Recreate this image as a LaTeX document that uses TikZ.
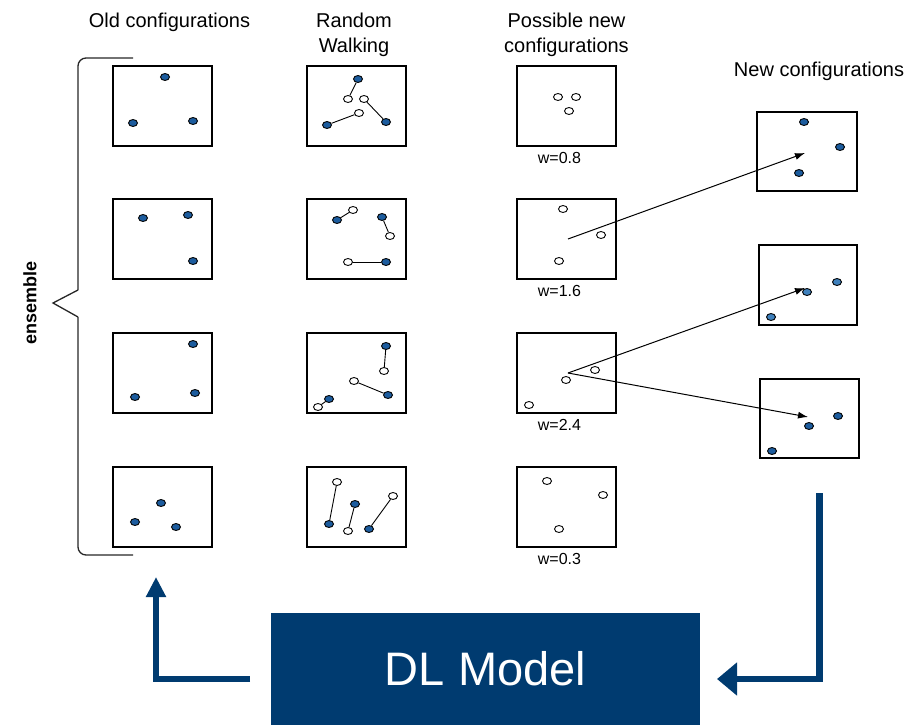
\documentclass[tikz,border=0pt]{standalone}
\usepackage{fontspec}
\setmainfont{Liberation Sans}
\usetikzlibrary{arrows.meta,positioning,shapes.geometric}
\definecolor{dlblue}{RGB}{0,59,112}
\definecolor{dotblue}{RGB}{28,92,158}
\definecolor{dotlight}{RGB}{62,128,188}
\tikzset{box/.style={draw,line width=1.1pt,minimum width=99pt,minimum height=80pt,inner sep=0pt}}
\tikzset{fdot/.style={ellipse,draw,line width=0.9pt,fill=dotblue,minimum width=9pt,minimum height=7pt,inner sep=0pt}}
\tikzset{odot/.style={fdot,fill=white}}
\tikzset{ldot/.style={fdot,fill=dotlight}}
\tikzset{coltitle/.style={font=\fontsize{20}{24.5}\selectfont,align=center,anchor=north,inner sep=0pt}}
\tikzset{wlab/.style={font=\fontsize{16}{19}\selectfont,inner sep=0pt}}
\tikzset{flow/.style={draw=dlblue,line width=6.7pt}}
\tikzset{pick/.style={line width=1pt,-{Latex[length=10pt,width=7pt]}}}
\tikzset{brace/.style={black!85,line width=1.3pt}}

\begin{document}
\begin{tikzpicture}[x=1pt,y=-1pt]
  \useasboundingbox (0,0) rectangle (907,725);

  \node[coltitle] (told) at (169.5,13) {Old configurations};
  \node[coltitle] (twalk) at (354,13) {Random\\Walking};
  \node[coltitle] (tposs) at (566.5,13) {Possible new\\configurations};
  \node[coltitle] (tnew) at (819,62) {New configurations};

  \foreach \y [count=\i] in {106,239,373,507} {
    \node[box] (old\i) at (162.5,\y) {};
    \node[box] (walk\i) at (356.5,\y) {};
    \node[box] (poss\i) at (566.5,\y) {};
  }
  \node[box,minimum width=100pt,minimum height=79pt] (new1) at (807,151.5) {};
  \node[box,minimum width=98pt] (new2) at (808,285) {};
  \node[box,minimum height=79pt] (new3) at (809.5,418.5) {};

  \foreach \w [count=\i] in {0.8,1.6,2.4,0.3}
    \node[wlab,below=6pt of poss\i,xshift=-7pt] (w\i) {w=\w};

  \foreach \x/\y [count=\i] in {165/77,133/123,193/121,143/218,188/215,193/261,
      193/344,135/397,195/393,161/503,135/522,176/527}
    \node[fdot] (od\i) at (\x,\y) {};

  \foreach \i/\fx/\fy/\ox/\oy in {1/358/79/348/99,2/386/122/364/99,3/327/125/359/113,
      4/337/220/353/210,5/382/217/390/236,6/386/262/348/262,
      7/386/346/384/371,8/388/395/354/381,9/329/399/318/407,
      10/329/524/337/482,11/355/504/348/531,12/369/529/393/496} {
    \node[fdot] (wf\i) at (\fx,\fy) {};
    \node[odot] (wo\i) at (\ox,\oy) {};
    \draw[line width=0.9pt] (wf\i) -- (wo\i);
  }

  \foreach \x/\y [count=\i] in {558/97,576/97,569/111,563/209,601/235,559/261,
      595/370,566/380,529/405,547/481,603/495,559/529}
    \node[odot] (pd\i) at (\x,\y) {};

  \foreach \x/\y/\s [count=\i] in {804/122/fdot,840/147/fdot,799/173/fdot,
      807/292/ldot,837/282/ldot,771/317/ldot,809/426/fdot,838/416/fdot,772/451/fdot}
    \node[\s] (nd\i) at (\x,\y) {};

  \draw[brace,rounded corners=8pt] (133,58) -- (78,58) -- (78,290);
  \draw[brace] (78,290) -- (53,303) -- (78,317);
  \draw[brace,rounded corners=8pt] (78,317) -- (78,555) -- (133,555);
  \node[rotate=90,font=\bfseries\fontsize{18}{20}\selectfont] (ens) at (30,303) {ensemble};

  \coordinate (s2) at (568,239);
  \coordinate (s3) at (568,373);
  \coordinate (t1) at (805,153);
  \coordinate (t2) at (805,288);
  \coordinate (t3) at (808,417);
  \draw[pick] (s2) -- (t1);
  \draw[pick] (s3) -- (t2);
  \draw[pick] (s3) -- (t3);

  \node[fill=dlblue,minimum width=429pt,minimum height=112pt,text=white,
    font=\fontsize{47}{50}\selectfont] (dl) at (485.5,669) {DL Model};

  \coordinate (lfrom) at (250,679);
  \coordinate (lto) at (156,577);
  \coordinate (rfrom) at (819.5,493);
  \coordinate (rto) at (717,679);
  \draw[flow,-{Triangle[length=20pt,width=19pt]}] (lfrom) -| (lto);
  \draw[flow,-{Triangle[length=20pt,width=32pt]}] (rfrom) |- (rto);
\end{tikzpicture}
\end{document}
